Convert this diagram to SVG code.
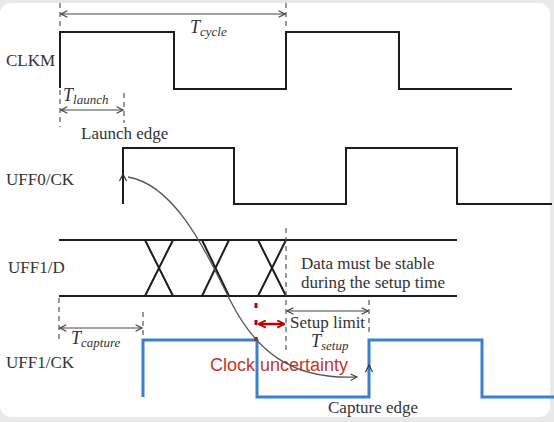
<svg xmlns="http://www.w3.org/2000/svg" width="554" height="422" viewBox="0 0 554 422">
<defs>
<style>
.sig{fill:none;stroke:#1c1c1c;stroke-width:2;stroke-linejoin:miter}
.blue{fill:none;stroke:#3a80cc;stroke-width:3}
.dash{fill:none;stroke:#555;stroke-width:1.2;stroke-dasharray:5 4}
.dim{fill:none;stroke:#444;stroke-width:1.1}
.lbl{font-family:"Liberation Serif","Times New Roman",serif;font-size:17px;fill:#333}
.it{font-family:"Liberation Serif","Times New Roman",serif;font-style:italic;fill:#333}
.red{font-family:"Liberation Sans",Arial,sans-serif;font-size:18px;fill:#c0392b}
</style>
<marker id="ah" viewBox="0 0 10 10" refX="9" refY="5" markerWidth="8" markerHeight="8" markerUnits="userSpaceOnUse" orient="auto-start-reverse">
<path d="M1,1 L9,5 L1,9" fill="none" stroke="#444" stroke-width="1.4"/>
</marker>
<marker id="ahr" viewBox="0 0 10 10" refX="8.5" refY="5" markerWidth="9" markerHeight="9" markerUnits="userSpaceOnUse" orient="auto-start-reverse">
<path d="M1,1 L9,5 L1,9" fill="none" stroke="#c00000" stroke-width="2"/>
</marker>
</defs>
<rect x="0" y="0" width="554" height="422" fill="#e9e9e9"/>
<rect x="0" y="3" width="550" height="414" rx="11" fill="#ffffff"/>

<g id="clkm">
<text class="lbl" x="6" y="66">CLKM</text>
<path class="sig" d="M60,88 V32 H174 V89 H286 V32 H399 V89 H512"/>
</g>

<g id="uff0-ck">
<text class="lbl" x="6" y="185">UFF0/CK</text>
<path class="sig" d="M123,204 V148 H234 V204 H346 V148 H457 V204 H552"/>
<path d="M119.5,181 L123,174 L126.5,181" fill="none" stroke="#333" stroke-width="1.2"/>
</g>

<g id="uff1-d">
<text class="lbl" x="8" y="273">UFF1/D</text>
<path class="sig" d="M59,240 H457 M59,296 H457"/>
<path class="sig" d="M145,240 L173,296 M173,240 L145,296 M202,240 L229,296 M229,240 L202,296 M258,240 L286,296 M286,240 L258,296"/>
<text class="lbl" x="301" y="269">Data must be stable</text>
<text class="lbl" x="301" y="288">during the setup time</text>
</g>

<g id="uff1-ck">
<text class="lbl" x="6" y="368">UFF1/CK</text>
<path class="blue" d="M143,397 V340 H257 V397 H369 V340 H482 V397 H554"/>
<path d="M365.5,372 L369,365 L372.5,372" fill="none" stroke="#333" stroke-width="1.2"/>
</g>

<g id="annotations">
<path class="dash" d="M60,3 V28 M286,3 V26 M60,90 V127 M124,93 V123 M286,228 V350 M59,298 V342 M143,312 V338 M369,300 V336"/>
<text class="it" x="190" y="33" font-size="18">T<tspan font-size="13" dy="3">cycle</tspan></text>
<text class="it" x="63" y="101" font-size="18">T<tspan font-size="13" dy="3">launch</tspan></text>
<text class="lbl" x="81" y="139">Launch edge</text>
<text class="it" x="71" y="344" font-size="18">T<tspan font-size="13" dy="3">capture</tspan></text>
<text class="lbl" x="290" y="328">Setup limit</text>
<text class="it" x="311" y="347" font-size="18">T<tspan font-size="13" dy="3">setup</tspan></text>
<text class="red" x="210" y="371">Clock uncertainty</text>
<text class="lbl" x="328" y="413">Capture edge</text>
<path d="M256,303 V341" fill="none" stroke="#c00000" stroke-width="3" stroke-dasharray="5 12"/>
</g>

<g id="connectors">
<path class="dim" d="M61,14 H285" marker-start="url(#ah)" marker-end="url(#ah)"/>
<path class="dim" d="M61,110 H123" marker-start="url(#ah)" marker-end="url(#ah)"/>
<path class="dim" d="M60,328 H142" marker-start="url(#ah)" marker-end="url(#ah)"/>
<path class="dim" d="M287,311 H368" marker-start="url(#ah)" marker-end="url(#ah)"/>
<path d="M259,324 H284" fill="none" stroke="#c00000" stroke-width="2.5" marker-start="url(#ahr)" marker-end="url(#ahr)"/>
<path d="M128,177 C175,185 205,250 230,300 C255,350 290,380 357,377" fill="none" stroke="#555" stroke-width="1.3" marker-end="url(#ah)"/>
</g>
</svg>
